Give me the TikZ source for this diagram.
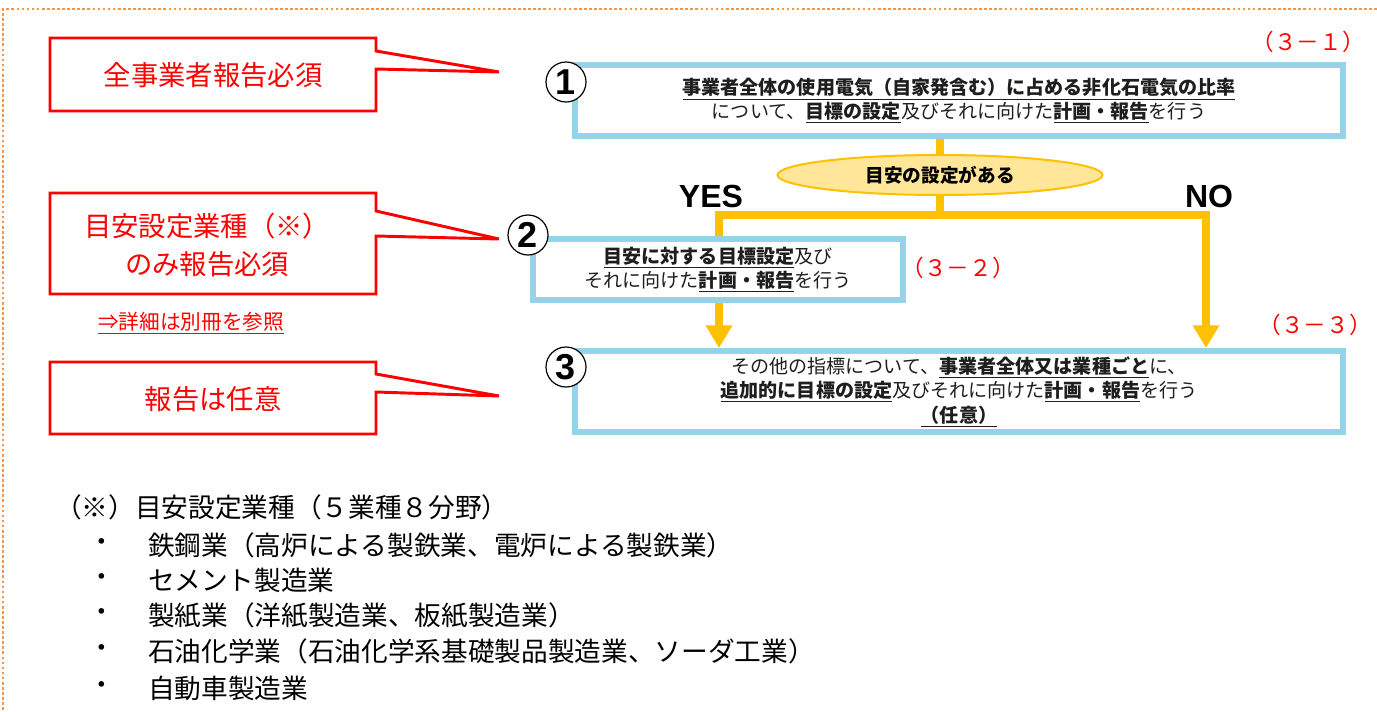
\documentclass[tikz,border=0pt]{standalone}
\usepackage{fontspec}
\setmainfont{Noto Sans CJK JP}
\newfontfamily\latf{Liberation Sans}
\usetikzlibrary{shapes.geometric,arrows.meta}
\definecolor{calred}{RGB}{255,0,0}
\definecolor{boxblue}{RGB}{150,210,232}
\definecolor{ygold}{RGB}{255,192,0}
\definecolor{yfill}{RGB}{255,230,153}
\definecolor{dotor}{RGB}{247,150,70}
\definecolor{txt}{RGB}{30,30,30}
\def\pxu{0.75pt}
\newcommand{\ulx}[1]{\underline{#1}}
\tikzset{
  callout/.style={draw=calred, line width=2.2pt, fill=white, line join=miter},
  caltext/.style={text=calred, font=\fontsize{20.5}{28.5}\selectfont, align=center, inner sep=0pt},
  bluebox/.style={draw=boxblue, line width=4.5pt, fill=white, inner sep=0pt, align=center, text=txt},
  yline/.style={draw=ygold, line width=6pt, line join=miter},
  yarrow/.style={-{Triangle[width=19pt,length=17pt]}},
  numc/.style={circle, draw=black, line width=0.9pt, fill=white, minimum size=30pt, inner sep=0pt, font=\latf\bfseries\fontsize{27}{27}\selectfont},
  redlabel/.style={text=calred, font=\fontsize{17}{17}\selectfont, inner sep=0pt},
  yn/.style={font=\latf\bfseries\fontsize{24}{24}\selectfont, inner sep=0pt, anchor=base},
  foot/.style={anchor=west, inner sep=0pt, font=\fontsize{20}{20}\selectfont},
}
\begin{document}
\begin{tikzpicture}[x=0.75pt,y=-0.75pt]
\useasboundingbox (0,0) rectangle (1377,711);
\fill[white] (0,0) rectangle (1377,711);
\draw[dotor, line width=2pt, dash pattern=on 2pt off 1.8pt] (3,720) -- (3,9) -- (1390,9);

% callouts
\draw[callout] (50,38) -- (376,38) -- (376,51) -- (499,72) -- (376,69) -- (376,111) -- (50,111) -- cycle;
\node[caltext] (ct1) at (213,75) {全事業者報告必須};
\draw[callout] (50,193) -- (376,193) -- (376,211) -- (499,239) -- (376,236) -- (376,294) -- (50,294) -- cycle;
\node[caltext] (ct2) at (207,245) {目安設定業種（※）\\のみ報告必須};
\node[text=calred, font=\fontsize{15.5}{16}\selectfont, inner sep=0pt] (link) at (191,323) {\ulx{⇒詳細は別冊を参照}};
\draw[callout] (50,362) -- (376,362) -- (376,374) -- (499,396) -- (376,392) -- (376,434) -- (50,434) -- cycle;
\node[caltext] (ct3) at (213,399) {報告は任意};

% boxes
\node[bluebox, minimum width=768*\pxu, minimum height=71*\pxu, font=\fontsize{14.3}{17.5}\selectfont] (b1) at (959,100.5)
  {\textbf{\ulx{事業者全体の使用電気（自家発含む）に占める非化石電気の比率}}\\について、\textbf{\ulx{目標の設定}}及びそれに向けた\textbf{\ulx{計画・報告}}を行う};
\node[bluebox, minimum width=370*\pxu, minimum height=61*\pxu, font=\fontsize{14.3}{17.5}\selectfont] (b2) at (718,269.5)
  {\textbf{\ulx{目安に対する目標設定}}及び\\それに向けた\textbf{\ulx{計画・報告}}を行う};
\node[bluebox, minimum width=768*\pxu, minimum height=81*\pxu, font=\fontsize{14.3}{18.4}\selectfont] (b3) at (959,391.5)
  {その他の指標について、\textbf{\ulx{事業者全体又は業種ごと}}に、\\\textbf{\ulx{追加的に目標の設定}}及びそれに向けた\textbf{\ulx{計画・報告}}を行う\\\textbf{\ulx{（任意）}}};

\node[ellipse, draw=ygold, line width=1.5pt, fill=yfill, minimum width=325*\pxu, minimum height=40*\pxu, inner sep=0pt, font=\bfseries\fontsize{14}{14}\selectfont] (el) at (940,175) {目安の設定がある};

% connectors
\coordinate (jL) at (719,215);
\coordinate (jR) at (1206,215);
\draw[yline] (el.north |- b1.south) -- (el.north);
\draw[yline] (el.south) -- (el.south |- jL);
\draw[yline, yarrow] (jL |- b2.north) -- (jL) -- (jR) -- (jR |- b3.north);
\draw[yline, yarrow] (jL |- b2.south) -- (jL |- b3.north);

\node[yn] (yes) at (711,207) {YES};
\node[yn] (no) at (1209,207) {NO};

% numbers
\node[numc] (n1) at (566,82) {1};
\node[numc] (n2) at (528,235) {2};
\node[numc] (n3) at (566,367) {3};

% labels
\node[redlabel] (l1) at (1308,42) {（３－１）};
\node[redlabel] (l2) at (958,268) {（３－２）};
\node[redlabel] (l3) at (1315,325) {（３－３）};

% footnote
\node[foot] (f0) at (55,507) {（※）目安設定業種（５業種８分野）};
\node[foot] (d1) at (88,545) {・};
\node[foot] (f1) at (148,545) {鉄鋼業（高炉による製鉄業、電炉による製鉄業）};
\node[foot] (d2) at (88,580) {・};
\node[foot] (f2) at (148,580) {セメント製造業};
\node[foot] (d3) at (88,615) {・};
\node[foot] (f3) at (148,615) {製紙業（洋紙製造業、板紙製造業）};
\node[foot] (d4) at (88,651) {・};
\node[foot] (f4) at (148,651) {石油化学業（石油化学系基礎製品製造業、ソーダ工業）};
\node[foot] (d5) at (88,688) {・};
\node[foot] (f5) at (148,688) {自動車製造業};
\end{tikzpicture}
\end{document}
